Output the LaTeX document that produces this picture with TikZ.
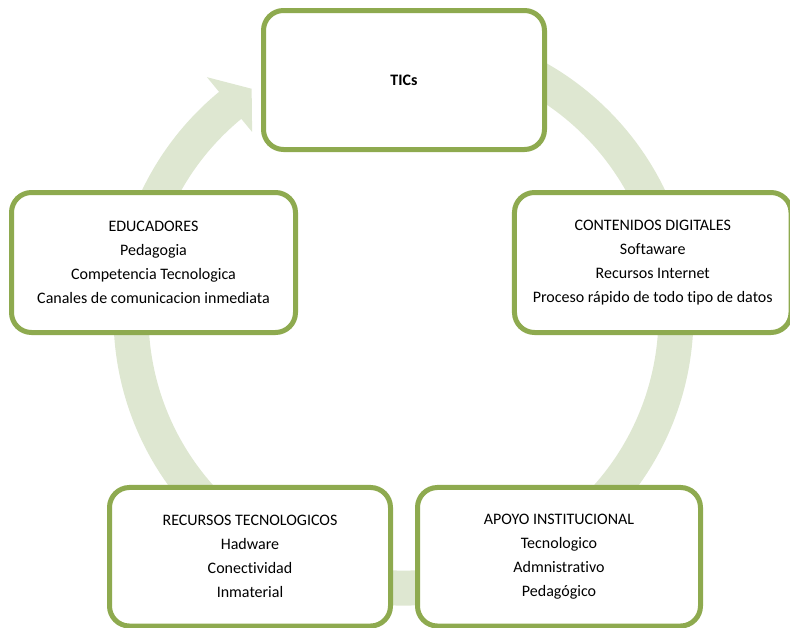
\documentclass[tikz,border=0pt]{standalone}
\usepackage{fontspec}
\setmainfont{Carlito}[Ligatures={NoCommon}]
\definecolor{boxgreen}{RGB}{142,170,79}
\definecolor{ringgreen}{RGB}{222,231,209}
\tikzset{
  cyclebox/.style={draw=boxgreen, line width=3.75pt, fill=white, rounded corners=15pt,
    align=center, font=\fontsize{12pt}{18pt}\selectfont, inner sep=0pt},
  ring/.style={fill=ringgreen}
}
\begin{document}
\begin{tikzpicture}[x=0.75pt,y=-0.75pt]
\useasboundingbox (0,0) rectangle (790,628);
\clip (0,0) rectangle (790,628);
% circular arrow band
\begin{scope}[shift={(403.5,315.6)}]
\fill[ring] (-90:290) arc[start angle=-90,end angle=230.5,radius=290]
  -- (230.5:309) -- (236.2:273) -- (230.5:238) -- (230.5:255)
  arc[start angle=230.5,end angle=-90,radius=255] -- cycle;
\end{scope}
% boxes
\node[cyclebox, minimum width=210.75pt, minimum height=104.25pt] (tics) at (404,80) {\textbf{TICs}};
\node[cyclebox, minimum width=213pt, minimum height=105pt] (edu) at (153.5,262.5)
  {EDUCADORES\\Pedagogia\\Competencia Tecnologica\\Canales de comunicacion inmediata};
\node[cyclebox, minimum width=207.4pt, minimum height=105pt] (cont) at (652.75,262.5)
  {CONTENIDOS DIGITALES\\Softaware\\Recursos Internet\\Proceso rápido de todo tipo de datos};
\node[cyclebox, minimum width=210.75pt, minimum height=103.9pt] (rec) at (250,556.75)
  {RECURSOS TECNOLOGICOS\\Hadware\\Conectividad\\Inmaterial};
\node[cyclebox, minimum width=212.25pt, minimum height=103.9pt] (apoyo) at (559,556.75)
  {APOYO INSTITUCIONAL\\Tecnologico\\Admnistrativo\\Pedagógico};
\end{tikzpicture}
\end{document}
